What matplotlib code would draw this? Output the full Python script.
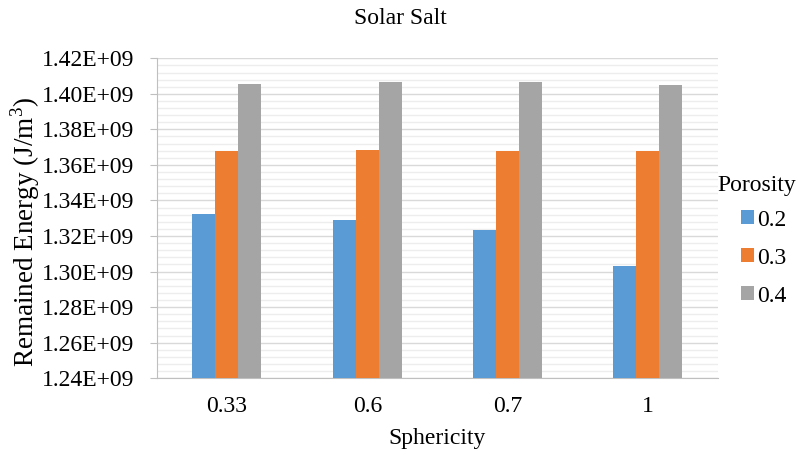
import matplotlib.pyplot as plt
import numpy as np
from matplotlib.ticker import MultipleLocator, FuncFormatter

plt.rcParams['font.family'] = ['Liberation Serif', 'DejaVu Serif']
plt.rcParams['mathtext.fontset'] = 'custom'
plt.rcParams['mathtext.rm'] = 'Liberation Serif'

sphericity = ['0.33', '0.6', '0.7', '1']
porosity = ['0.2', '0.3', '0.4']
energy_02 = [1.3322e9, 1.3289e9, 1.3234e9, 1.3030e9]
energy_03 = [1.3676e9, 1.3682e9, 1.3676e9, 1.3676e9]
energy_04 = [1.4057e9, 1.4067e9, 1.4067e9, 1.4050e9]
colors = ['#5B9BD5', '#ED7D31', '#A5A5A5']

fig = plt.figure(figsize=(8, 4.59), dpi=100)
ax = fig.add_axes([0.196, 0.176, 0.7015, 0.697])

x = np.arange(len(sphericity))
w = 0.164
for i, (vals, lab) in enumerate(zip([energy_02, energy_03, energy_04], porosity)):
    ax.bar(x + (i - 1) * w, vals, width=w, color=colors[i], label=lab, zorder=3)

ax.set_xlim(-0.5, len(sphericity) - 0.5)
ax.set_ylim(1.24e9, 1.42e9)
ax.yaxis.set_major_locator(MultipleLocator(0.02e9))
ax.yaxis.set_minor_locator(MultipleLocator(0.004e9))
ax.yaxis.set_major_formatter(FuncFormatter(lambda v, p: f'{v:.2E}'))
ax.set_xticks(x)
ax.set_xticklabels(sphericity)

ax.grid(axis='y', which='major', color='#D9D9D9', lw=1, zorder=0)
ax.grid(axis='y', which='minor', color='#EDEDED', lw=1, zorder=0)

for s in ['top', 'right']:
    ax.spines[s].set_visible(False)
for s in ['left', 'bottom']:
    ax.spines[s].set_color('#BFBFBF')
ax.tick_params(axis='y', which='major', length=5, color='#BFBFBF', labelsize=17, pad=11)
ax.tick_params(axis='y', which='minor', length=0)
ax.tick_params(axis='x', length=0, labelsize=17, pad=13)

ax.set_xlabel('Sphericity', fontsize=17, labelpad=8)
ax.set_ylabel(r'Remained Energy (J/m$^\mathrm{3}$)', fontsize=19.5, va='center')
ax.yaxis.set_label_coords(-0.235, 0.457)
fig.text(0.5, 1 - 18 / 459, 'Solar Salt', ha='center', va='center', fontsize=17)

# legend title sits left of the swatches
fig.text(717 / 800, 1 - 185 / 459, 'Porosity', ha='left', va='center', fontsize=17)
ax.legend(loc='center left', bbox_to_anchor=(741 / 800, 1 - 258 / 459),
          bbox_transform=fig.transFigure, frameon=False, fontsize=17,
          borderpad=0, borderaxespad=0,
          handlelength=0.55, handleheight=0.55, handletextpad=0.15,
          labelspacing=0.72)

fig.savefig('out.png', dpi=100)
